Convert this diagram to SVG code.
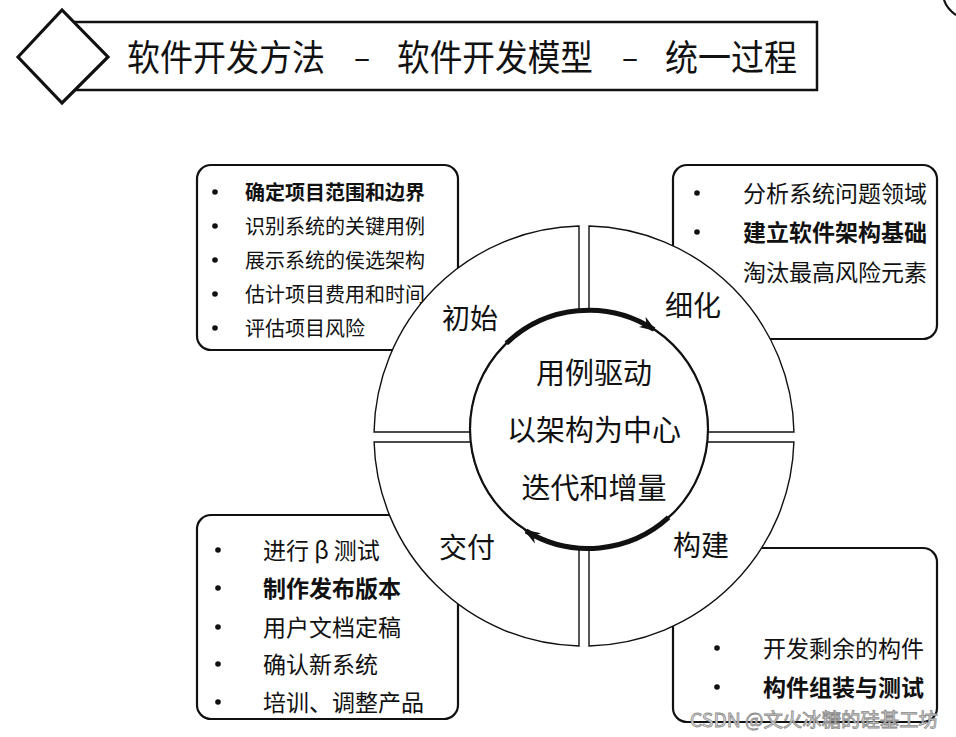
<svg xmlns="http://www.w3.org/2000/svg" width="956" height="737" viewBox="0 0 956 737">
<style>
.cjk{font-family:"Noto Sans CJK SC","Noto Sans",sans-serif;fill:#111}
.box{fill:#fff;stroke:#111;stroke-width:2.2}
.q{fill:#fff;stroke:#111;stroke-width:1.4}
.b{fill:#111}
.t20{font-size:20px}
.t23{font-size:23px}
.lbl{font-size:28px}
.ctr{font-size:29px;text-anchor:middle}
.bold{font-weight:bold}
</style>
<defs>
<marker id="ah" markerUnits="userSpaceOnUse" markerWidth="22" markerHeight="16" refX="14" refY="8" orient="auto">
<path d="M0,2 L17,8 L0,14 L5,8 Z" fill="#111"/>
</marker>
</defs>
<rect width="956" height="737" fill="#fff"/>

<g id="header">
<rect x="70" y="22" width="747" height="68" fill="#fff" stroke="#111" stroke-width="2.5"/>
<polygon points="18,57 62,10 108,57 62,103" fill="#fff" stroke="#111" stroke-width="3.2"/>
<text class="cjk" x="127" y="71" font-size="36" textLength="198" lengthAdjust="spacingAndGlyphs">软件开发方法</text>
<text class="cjk" x="354" y="68" font-size="30" font-family="Liberation Sans">–</text>
<text class="cjk" x="397" y="71" font-size="36" textLength="196" lengthAdjust="spacingAndGlyphs">软件开发模型</text>
<text class="cjk" x="622" y="68" font-size="30">–</text>
<text class="cjk" x="665" y="71" font-size="36" textLength="132" lengthAdjust="spacingAndGlyphs">统一过程</text>
<path d="M944,0 Q947,9 956,15" fill="none" stroke="#111" stroke-width="2.2"/>
</g>

<g id="box-inception">
<rect class="box" x="197" y="165" width="261" height="185" rx="14"/>
<circle class="b" cx="215" cy="192" r="2.8"/>
<circle class="b" cx="215" cy="226" r="2.8"/>
<circle class="b" cx="215" cy="260" r="2.8"/>
<circle class="b" cx="215" cy="294" r="2.8"/>
<circle class="b" cx="215" cy="328" r="2.8"/>
<text class="cjk t20 bold" x="245" y="200">确定项目范围和边界</text>
<text class="cjk t20" x="245" y="234">识别系统的关键用例</text>
<text class="cjk t20" x="245" y="268">展示系统的侯选架构</text>
<text class="cjk t20" x="245" y="302">估计项目费用和时间</text>
<text class="cjk t20" x="245" y="336">评估项目风险</text>
</g>

<g id="box-elaboration">
<rect class="box" x="673" y="165" width="264" height="174" rx="14"/>
<circle class="b" cx="697" cy="193" r="2.8"/>
<circle class="b" cx="697" cy="232" r="2.8"/>
<text class="cjk t23" x="743" y="202">分析系统问题领域</text>
<text class="cjk t23 bold" x="743" y="241">建立软件架构基础</text>
<text class="cjk t23" x="743" y="281">淘汰最高风险元素</text>
</g>

<g id="box-transition">
<rect class="box" x="197" y="515" width="261" height="204" rx="14"/>
<circle class="b" cx="218" cy="550" r="2.8"/>
<circle class="b" cx="218" cy="588" r="2.8"/>
<circle class="b" cx="218" cy="627" r="2.8"/>
<circle class="b" cx="218" cy="664" r="2.8"/>
<circle class="b" cx="218" cy="702" r="2.8"/>
<text class="cjk t23" x="263" y="559" xml:space="preserve">进行 β 测试</text>
<text class="cjk t23 bold" x="263" y="597">制作发布版本</text>
<text class="cjk t23" x="263" y="636">用户文档定稿</text>
<text class="cjk t23" x="263" y="673">确认新系统</text>
<text class="cjk t23" x="263" y="711">培训、调整产品</text>
</g>

<g id="box-construction">
<rect class="box" x="673" y="548" width="264" height="174" rx="14"/>
<circle class="b" cx="717" cy="648" r="2.8"/>
<circle class="b" cx="717" cy="687" r="2.8"/>
<text class="cjk t23" x="763" y="657">开发剩余的构件</text>
<text class="cjk t23 bold" x="763" y="696">构件组装与测试</text>
</g>

<g id="ring">
<g id="q-inception">
<path class="q" d="M579,226.06 A210,210 0 0 0 374.04,432 L470.04,432 A119,119 0 0 1 579,310.42 Z"/>
<text class="cjk lbl" x="442" y="329">初始</text>
</g>
<g id="q-elaboration">
<path class="q" d="M589,226.06 A210,210 0 0 1 793.96,432 L707.96,432 A119,119 0 0 0 589,310 Z"/>
<text class="cjk lbl" x="665" y="316">细化</text>
</g>
<g id="q-construction">
<path class="q" d="M793.91,442 A210,210 0 0 1 589,645.94 L589,548 A119,119 0 0 0 707.29,442 Z"/>
<text class="cjk lbl" x="673" y="556">构建</text>
</g>
<g id="q-transition">
<path class="q" d="M579,645.94 A210,210 0 0 1 374.09,442 L470.71,442 A119,119 0 0 0 579,547.58 Z"/>
<text class="cjk lbl" x="439" y="558">交付</text>
</g>
<g id="core">
<circle cx="589" cy="429" r="119" fill="#fff" stroke="#111" stroke-width="2.2"/>
<text class="cjk ctr" x="594" y="384">用例驱动</text>
<text class="cjk ctr" x="594" y="441">以架构为中心</text>
<text class="cjk ctr" x="594" y="499">迭代和增量</text>
</g>
</g>

<g id="connectors" fill="none" stroke="#111" stroke-width="5">
<path d="M506.3,343.4 A119.5,119.5 0 0 1 654,329.5" marker-end="url(#ah)"/>
<path d="M668.6,517.4 A119.5,119.5 0 0 1 526,531" marker-end="url(#ah)"/>
</g>

<text x="690" y="727" font-family="Noto Sans CJK SC,sans-serif" font-size="19" textLength="248" lengthAdjust="spacingAndGlyphs" fill="#e6e6e6" stroke="#8a8a8a" stroke-width="0.8">CSDN @文火冰糖的硅基工坊</text>
</svg>
